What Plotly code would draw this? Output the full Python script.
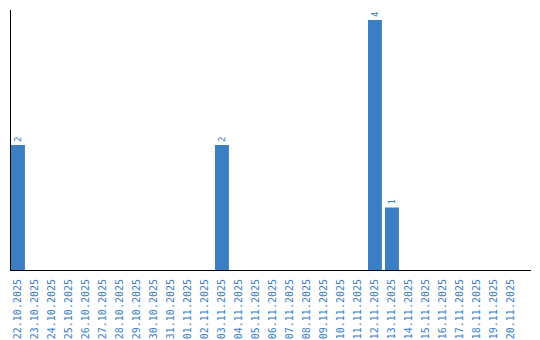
import plotly.graph_objects as go

dates = ["22.10.2025", "23.10.2025", "24.10.2025", "25.10.2025", "26.10.2025",
         "27.10.2025", "28.10.2025", "29.10.2025", "30.10.2025", "31.10.2025",
         "01.11.2025", "02.11.2025", "03.11.2025", "04.11.2025", "05.11.2025",
         "06.11.2025", "07.11.2025", "08.11.2025", "09.11.2025", "10.11.2025",
         "11.11.2025", "12.11.2025", "13.11.2025", "14.11.2025", "15.11.2025",
         "16.11.2025", "17.11.2025", "18.11.2025", "19.11.2025", "20.11.2025"]
counts = [2, 0, 0, 0, 0, 0, 0, 0, 0, 0,
          0, 0, 2, 0, 0, 0, 0, 0, 0, 0,
          0, 4, 1, 0, 0, 0, 0, 0, 0, 0]
labels = [str(v) if v else "" for v in counts]

blue = "#3c7ec4"
fig = go.Figure(go.Bar(
    x=dates, y=counts, text=labels, textposition="outside", textangle=-90,
    cliponaxis=False,
    marker=dict(color=blue, line=dict(width=0)),
    textfont=dict(family="DejaVu Sans Mono", size=9, color=blue),
))
fig.update_layout(
    width=540, height=340,
    margin=dict(l=11, r=9, t=10, b=70),
    paper_bgcolor="white", plot_bgcolor="white",
    bargap=0.18, showlegend=False,
    xaxis=dict(type="category", range=[-0.41, 30.18], tickangle=-90, showgrid=False,
               showline=True, linecolor="black", linewidth=1, ticks="", ticklen=0,
               automargin=False, ticklabelstandoff=4,
               tickfont=dict(family="DejaVu Sans Mono", size=10, color=blue)),
    yaxis=dict(range=[0, 4.16], showgrid=False, showline=True, linecolor="black",
               linewidth=1, showticklabels=False, ticks="", zeroline=False,
               automargin=False),
)
fig.write_html("out.html")
